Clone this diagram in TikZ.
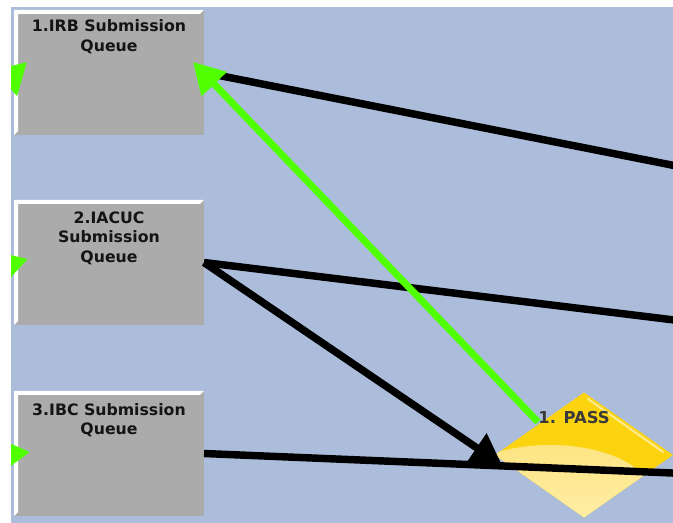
\documentclass[tikz,border=0pt]{standalone}
\usepackage{fontspec}
\setsansfont{DejaVu Sans}
\usetikzlibrary{arrows.meta,shapes.geometric,calc}

\definecolor{canvasblue}{HTML}{ABBDDB}
\definecolor{queuegray}{HTML}{ABABAB}
\definecolor{flowgreen}{HTML}{50FF00}
\definecolor{passgold}{HTML}{FBD30F}
\definecolor{passlight}{HTML}{FCDF6A}
\definecolor{passpale}{HTML}{FFF0B0}
\definecolor{labelgray}{HTML}{3A3A3A}
\definecolor{queuetext}{HTML}{161412}

\begin{document}
\begin{tikzpicture}[x=0.75pt,y=-0.75pt,
  queue/.style={fill=queuegray, minimum width=142.5pt, minimum height=94.1pt,
    inner sep=0pt, outer sep=0pt,
    path picture={
      \fill[white] (path picture bounding box.north west)
        -- (path picture bounding box.north east) -- ++(-4,4)
        -- ($(path picture bounding box.north west)+(4,4)$)
        -- ($(path picture bounding box.south west)+(4,-4)$)
        -- (path picture bounding box.south west) -- cycle;}},
  queuelabel/.style={anchor=north, align=center, inner sep=0pt,
    text=queuetext, font=\fontsize{11.8pt}{14.6pt}\selectfont\sffamily\bfseries},
  passdiamond/.style={diamond, minimum width=133.5pt, minimum height=93.75pt,
    inner sep=0pt, outer sep=0pt, fill=passgold,
    path picture={
      \shade[top color=passlight, bottom color=passpale]
        ($(path picture bounding box.center)+(-34,38)$)
        ellipse [x radius=75pt, y radius=36pt];
      \draw[white, opacity=0.55, line width=1.5pt, line cap=round]
        ($(path picture bounding box.center)+(4,-56)$)
        -- ($(path picture bounding box.center)+(79,-3)$);}},
  passlabel/.style={inner sep=0pt, text=labelgray,
    font=\fontsize{12.3pt}{14pt}\selectfont\sffamily\bfseries},
  blackflow/.style={draw=black, line width=5.6pt},
  greenflow/.style={draw=flowgreen, line width=5.25pt},
  bigtip/.style={-{Triangle[length=23pt, width=25pt]}}
]
% page and canvas
\useasboundingbox (0,0) rectangle (673,523);
\fill[white] (0,0) rectangle (673,523);
\fill[canvasblue] (11,7) rectangle (673,523);

\begin{scope}
\clip (11,7) rectangle (673,523);

% decision diamond
\node[passdiamond] (pass) at (584,455) {};

% submission queues
\node[queue] (irb)   at (109,72.5)  {};
\node[queue] (iacuc) at (109,262.5) {};
\node[queue] (ibc)   at (109,453.5) {};

% connector ends that leave the canvas
\coordinate (irbout)   at (720,174.6);
\coordinate (iacucout) at (720,325.6);
\coordinate (ibcout)   at (720,475);
\coordinate (passtip)  at ($(pass.west)+(7,10)$);
\coordinate (passtail) at ($(pass.center)+(-46,-33)$);
\coordinate (irbtip)   at ($(irb.east)+(-11,-10.5)$);

% incoming from the left
\coordinate (inA) at (-45,131);   \coordinate (inAtip) at (27,62);
\coordinate (inB) at (-67.6,288); \coordinate (inBtip) at (28,259);
\coordinate (inC) at (-69,463);   \coordinate (inCtip) at (30,452);

% black connectors
\draw[blackflow] (irb.east) -- (irbout);
\draw[blackflow] (iacuc.east) -- (iacucout);
\draw[blackflow, bigtip] (iacuc.east) -- (passtip);
\draw[blackflow] (ibc.east) -- (ibcout);

% green connectors
\draw[greenflow, bigtip] (passtail) -- (irbtip);
\draw[greenflow, bigtip] (inA) -- (inAtip);
\draw[greenflow, bigtip] (inB) -- (inBtip);
\draw[greenflow, bigtip] (inC) -- (inCtip);
\end{scope}

% labels
\node[queuelabel] (irbtext)   at ($(irb.north)+(0,10)$)   {1.IRB Submission\\Queue};
\node[queuelabel] (iacuctext) at ($(iacuc.north)+(0,11.5)$) {2.IACUC\\Submission\\Queue};
\node[queuelabel] (ibctext)   at ($(ibc.north)+(0,12.5)$)   {3.IBC Submission\\Queue};
\node[passlabel] (passtext) at (574,418) {1. PASS};
\end{tikzpicture}
\end{document}
